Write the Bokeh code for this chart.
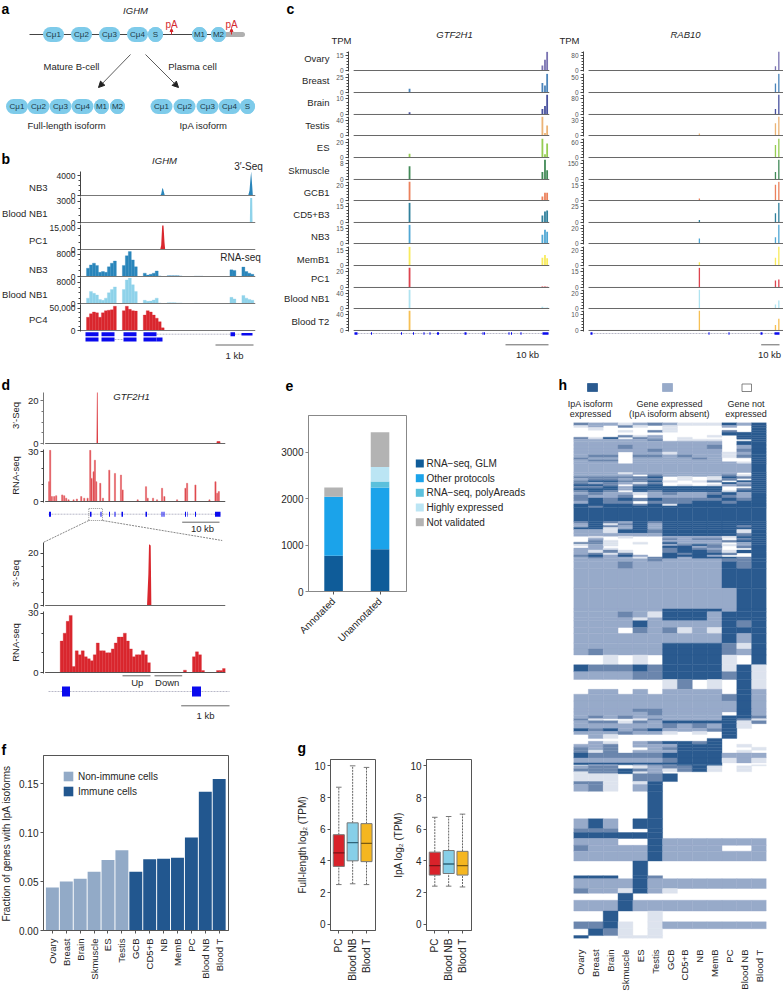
import math
from bokeh.core.properties import value
from bokeh.embed import file_html
from bokeh.layouts import GridBox
from bokeh.models import (Arrow, FixedTicker, Legend, LegendItem, NormalHead, Range1d)
from bokeh.plotting import figure
from bokeh.resources import INLINE

FONT = "Liberation Sans"
INK = "#262626"

# ---------------- DATA ----------------
# panel b: 3'-seq polygons and RNA-seq coverage bins
b3_nb3_x = [238, 478, 481, 484, 486, 489, 492, 743, 747, 750, 752, 755, 757, 765]
b3_nb3_y = [0, 0, 300, 1300, 1500, 700, 0, 0, 1000, 3500, 4800, 2000, 0, 0]
b3_blood_x = [238, 480, 485, 490, 748, 749, 755, 756, 765]
b3_blood_y = [0, 0, 100, 0, 0, 3500, 3500, 0, 0]
b3_pc_x = [238, 318, 325, 332, 478, 481, 484, 488, 491, 493, 765]
b3_pc_y = [0, 0, 400, 0, 0, 3000, 17000, 17000, 5000, 0, 0]
b_rna_nb3 = [0, 0, 3000, 4200, 4800, 4000, 1500, 1800, 1500, 3500, 4800, 5600, 0, 0, 4000, 7500, 9000, 6000, 3500, 0,
             0, 1200, 500, 800, 1200, 2000, 200, 0, 0, 300, 300, 300, 300, 200, 0, 0, 0, 0, 100, 100, 100, 0, 0, 0, 0,
             0, 0, 0, 0, 0, 2400, 2200, 0, 0, 3400, 1800, 1200, 800]
b_rna_blood = [0, 0, 2000, 4500, 3800, 3200, 1500, 1200, 2000, 4000, 5200, 6200, 0, 0, 5200, 8800, 9500, 7000, 4500, 0,
               0, 1200, 800, 900, 1300, 2000, 200, 0, 0, 300, 300, 300, 200, 200, 0, 0, 0, 0, 100, 100, 0, 0, 0, 0, 0,
               0, 0, 0, 0, 0, 2300, 1700, 0, 0, 3000, 2000, 1500, 1200]
b_rna_pc = [0, 0, 30000, 38000, 42000, 40000, 30000, 40000, 45000, 46000, 47000, 55000, 0, 0, 45000, 55000, 48000,
            45000, 44000, 0, 0, 35000, 45000, 42000, 35000, 28000, 20000, 6000, 0, 0, 0, 0, 0, 0, 0, 0, 0, 0, 0, 0, 0,
            0, 0, 0, 0, 0, 0, 0, 0, 0, 0, 0, 0, 0, 0, 0, 0, 0]

# panel c
c_samples = ["Ovary", "Breast", "Brain", "Testis", "ES", "Skmuscle", "GCB1", "CD5+B3", "NB3", "MemB1", "PC1",
             "Blood NB1", "Blood T2"]
c_colors = ["#6a63a8", "#3777b2", "#343e93", "#e9ab67", "#8bc640", "#2e7d46", "#e9734a", "#1a7291", "#3d9dcf",
            "#f7e94b", "#d9303c", "#a6e0ee", "#f5b942"]
gtf_ticks = [15, 25, 10, 40, 20, 8, 20, 15, 15, 15, 20, 40, 40]
gtf_pos = [14.2, 45.1, 45.7, 46.2]
gtf_vals = [[0.3, 5, 11, 19], [6.5, 16, 12, 32], [1.5, 3.5, 5.5, 13], [1, 52, 7, 27], [5, 26, 4.5, 19],
            [6.8, 3.9, 10.3, 4.8], [26, 5.3, 10.7, 10.7], [19, 6.7, 10.7, 11.7], [19, 9, 14, 12], [19, 8, 10.7, 7.3],
            [26, 1.3, 1.3, 1], [52, 5, 2, 3], [52, 1, 0.5, 0.5]]
rab_ticks = [80, 50, 80, 30, 60, 150, 15, 25, 20, 20, 15, 20, 10]
rab_pos = [62, 102.7, 104.5]
rab_vals = [[0, 23, 103], [1.7, 31, 64], [0.9, 28, 103], [4, 25, 39], [0, 51, 77], [1.7, 73, 193], [2, 16, 19],
            [3.9, 15, 32], [6.7, 8.4, 26], [4.4, 10.7, 26], [19, 6.7, 7.7], [26, 5.3, 11], [13, 3.6, 7.6]]

# panel d
d1_x = [135, 289, 290, 292, 293, 648, 649, 659, 660, 675]
d1_y = [0, 0, 24, 24, 0, 0, 1, 1, 0, 0]
d2_pos = [147, 150, 155, 162, 168, 186, 192, 198, 205, 220, 230, 243, 252, 262, 270, 274, 280, 284, 288, 300, 308, 327,
          344, 362, 367, 412, 437, 442, 458, 470, 485, 492, 530, 555, 560, 585, 627, 645, 650, 655]
d2_val = [12, 31, 3, 3, 3.5, 4, 3.5, 2, 1, 1, 1.5, 3, 2, 2, 31, 14, 18, 25, 12, 11, 2, 19, 17, 16, 7, 1, 9, 2, 2, 1, 8,
          3, 1, 8, 11, 10, 1, 12, 5, 6]
d3_x = [135, 440, 444, 446, 451, 453, 675]
d3_y = [0, 0, 12, 23.5, 23, 0, 0]
d4_val = [0, 0, 0, 0, 0, 16, 20, 26, 29, 3, 11, 9, 11, 8, 7, 6, 9, 15, 11, 11, 10, 10, 12, 15, 18, 18, 20, 16, 12, 8, 9,
          9, 11, 9, 5, 0, 0, 0, 0, 0, 0, 0, 0, 0, 0, 0, 1.2, 0, 0, 8, 10.5, 9, 1, 0, 0, 0, 0, 1, 1, 2]

# panel e
e_cats = ["Annotated", "Unannotated"]
e_series = ["RNA\u2212seq, GLM", "Other protocols", "RNA\u2212seq, polyAreads", "Highly expressed", "Not validated"]
e_vals = [[770, 910], [1270, 1330], [0, 130], [0, 310], [200, 750]]
e_colors = ["#0f5c99", "#1ba3ea", "#5bc0dc", "#bbe5f4", "#b3b3b3"]

# panel f
f_cats = ["Ovary", "Breast", "Brain", "Skmuscle", "ES", "Testis", "GCB", "CD5+B", "NB", "MemB", "PC", "Blood NB", "Blood T"]
f_vals = [0.044, 0.050, 0.053, 0.060, 0.072, 0.082, 0.060, 0.073, 0.0735, 0.0745, 0.095, 0.142, 0.155]

# panel g
g_cats = ["PC", "Blood NB", "Blood T"]
g_colors = ["#d9222a", "#86cfe8", "#f5b620"]
g_med_colors = ["#7a1216", "#2f6478", "#7a5a10"]
gfl_low, gfl_q1, gfl_med, gfl_q3, gfl_hi = [2.5, 2.55, 2.5], [3.65, 4.0, 3.95], [4.5, 5.15, 5.1], [5.65, 6.4, 6.35], [8.65, 10, 9.9]
gip_low, gip_q1, gip_med, gip_q3, gip_hi = [2.4, 2.4, 2.35], [3.1, 3.2, 3.1], [3.7, 3.8, 3.7], [4.55, 4.65, 4.6], [6.75, 6.8, 6.95]

# panel h: (number of rows, state per sample). D isoform, L gene only, W not expressed, m/p mixed
h_cats = f_cats
h_rows = [(3, "mLLpLmLpppDLD"), (2, "pLWmpWpWWWLWD"), (3, "WpWWWWpWWWWWD"), (2, "WWWpWmpWWWmWD"), (3, "WWWWWWWWWWDDD"),
          (2, "WWWmpLWWWpWDD"), (2, "mpDWmLWpWWWDD"), (2, "LLLLLmWpppWWD"), (4, "LLLLLLLLLLWDD"), (4, "LLLmLLLLLmWLD"),
          (3, "LLLLLmLLLLWmD"), (3, "LLLWLLpLLLpLD"), (3, "LmmWmmLmLLpmD"), (2, "mLLWLLLLmLWWD"), (2, "LmmWLLLLLLWWD"),
          (2, "LLLWLLLLLLLpD"), (9, "LLLLLLLLLLLLD"), (2, "LLLpLLLLLLLWD"), (2, "LLLLWmLLLLmpD"), (2, "mmmmmDWpWpDmD"),
          (2, "LmmLmmWpWpmWD"), (2, "mDDmmDpWpmWDD"), (2, "mLmLpmWWWWDLD"), (2, "DDmWmDWpWpLmD"), (2, "mmDLDDDDDDWWD"),
          (2, "DDDLDDDDDDWmD"), (2, "mDmWDmDDDDpDD"), (3, "LmLLpLmLLmDLD"), (3, "mLLmWLLLLDmLD"), (3, "mDmDmDmmmmDmD"),
          (3, "LDmmWmmmDDmDD"), (2, "DDDDmDpDDDDDD"), (2, "DmDDDDDDDDDDD"), (14, "DDDDDDDDDDDDD"), (2, "mDmLDmDDDDDDD"),
          (2, "LDpmDLDDDDDDD"), (2, "LDmLDLDDDDDmD"), (2, "DDpLDLDDDDDDD"), (4, "LLpDDmDDDDDpD"), (3, "LLLLLLDDDDDmD"),
          (2, "WpWpWWLLLLpDD"), (2, "WLWWWWmLmmWmD"), (2, "WmpWWWLLLLmDD"), (2, "mmpWpWDLLLWLD"), (2, "pLpWWWLmDmpLD"),
          (2, "WLWWWWDDLmWmD"), (2, "LLpWWWmDmLWWD"), (3, "LpmpWWmDDmpDD"), (2, "LmpmWWDmDDmWD"), (2, "mDLDLWDDDLWWD"),
          (2, "LmLLpmDLDDDmD"), (3, "LLLLLmLLLLmmD"),
          (7, "LLLmLLLLLLDmD"), (20, "LLLLLLLLLLDDD"),
          (21, "LLLLLLLLLLLDD"), (3, "LLLLLLDDDDLDD"), (6, "LLLmLpDDDLDDD"), (3, "LLLLpLDDDLDDD"), (7, "LLLLDLLLLLDmD"),
          (6, "LLLWmLmpLpDDD"), (10, "LLLLLLLLLLDLD"), (6, "LLLLLLDDDDmpD"), (6, "LmLLLLDDDDmLD"), (10, "WWpWpWDDDDpWD"),
          (7, "DmmmDmDDDDpDp"), (8, "LLLLmmDDDDmDp"), (10, "WWWWWWpmWpWDp"), (5, "WLLWLWLLLLWDL"),
          (7, "LLLLLLLLLLmDL"), (8, "LLLLLLLLLLLDL"), (3, "LLLLmmLLLLLDL"), (4, "LLLLLmLLLLWDL"), (3, "LmLmLLLLLLDDm"),
          (2, "mpWWpmLLLLDmp"), (3, "LmmpmLDDDDDpm"), (5, "LLLLLLmLmLDpW"), (3, "DmDLmDLLLmDWW"), (3, "LLLmLLpWpWDWW"),
          (4, "WLpWWWWWWWDWW"), (3, "WWWWWWWWWDWWW"), (3, "WLpWLmDDmDWWW"), (3, "LLmWLLLDDDWpW"), (3, "mLmWWLmDDDWWp"),
          (3, "mpmWLLLDDDWpW"), (5, "DmmmmmDDDDLLL"), (5, "LLLLLLmDDDpLp"), (2, "DDDDDDDDDDWWW"), (1, "WLLWLmmDDDWWp"),
          (3, "LmmWpLmmDpWpW"), (3, "mmmDmLpmDpWpW"), (2, "pmmDpLWWWWWWW"), (8, "pppWmmDWWWWWW"), (3, "mmpWpDWWWWWWW"),
          (7, "LmpWLDWWWWWWW"), (28, "WWWWWDWWWWWWW"), (10, "LDLWDDWWWWWWW"),
          (4, "mmmWWDWWWWWWW"), (6, "DDDDDDWWWWWWW"), (7, "LLLWWDLLLLLLL"), (6, "mLLLLDLLLLWWL"), (10, "LLLLLDLLLLLLL"),
          (15, "WWWWDWWWWWWWW"), (3, "DDDWDmWWWWWWW"), (10, "LLLLDLLLLLLLL"), (5, "mLLpDLpWWWWWW"), (7, "WWWDWWWWWWWWW"),
          (11, "LLLDLLLLLLLLL"), (11, "WWDWWpWWWWWWW"), (7, "mmDpWpLLLLLLL"), (7, "WDmpWpWWWWWWW"), (3, "DWWpppWWWWWWW")]
h_state_colors = {"D": "#2a5a8f", "L": "#97aac9", "m": "#6b86ad", "p": "#dde3ee"}

# ---------------- HELPERS ----------------
children = []


def panel(x0, x1, ytop, ybot, xr, yr, l=50, r=2, t=8, b=8, **kw):
    x0, x1, ytop, ybot = round(x0), round(x1), round(ytop), round(ybot)
    w = x1 - x0 + l + r
    h = ybot - ytop + t + b
    p = figure(width=w, height=h, x_range=xr, y_range=yr, output_backend="svg", toolbar_location=None,
               min_border_left=l, min_border_right=r, min_border_top=t, min_border_bottom=b, frame_align=False,
               background_fill_alpha=0, border_fill_alpha=0, outline_line_color=None, **kw)
    p.grid.visible = False
    children.append((p, ytop - t, x0 - l, h, w))
    return p


def style_y(p, ticks, minor, font_px, color=INK, overrides=None, line="#444"):
    a = p.yaxis[0]
    a.ticker = FixedTicker(ticks=ticks, minor_ticks=minor)
    a.major_label_text_font = FONT
    a.major_label_text_font_size = f"{font_px}px"
    a.major_label_text_color = color
    a.major_tick_in = 0
    a.major_tick_out = 3
    a.minor_tick_in = 0
    a.minor_tick_out = 2
    a.major_label_standoff = 2
    a.axis_line_color = line
    a.major_tick_line_color = line
    a.minor_tick_line_color = line
    if overrides:
        a.major_label_overrides = overrides


def track_fig(x0, x1, base, top, xspan, tick, nminor, font_px, ymax, color=INK, overrides=None, line="#444", l=50):
    per_px = ymax / (base - top)
    p = panel(x0, x1, top, base + 1, Range1d(*xspan), Range1d(-per_px, ymax), l=l, x_axis_location=None)
    step = tick / nminor
    minor = [step * i for i in range(0, int(ymax / step) + 1)]
    style_y(p, [0, tick], minor, font_px, color, overrides, line)
    return p


# ---------------- PANEL b ----------------
b_x0, b_x1 = 80, 255
b_span = (238, 765)
b_bin_x = [238 + 9 * i + 4.5 for i in range(58)]
b_spec = [(195.3, 171, 4000, 4, 4800, None, "#2a86bb", b3_nb3_x, b3_nb3_y, None),
          (222, 197, 3000, 3, 3570, None, "#8fd3ea", b3_blood_x, b3_blood_y, None),
          (249, 224, 15000, 3, 17800, {15000: "15,000"}, "#d9272e", b3_pc_x, b3_pc_y, None),
          (276, 250, 8000, 4, 9400, None, "#2a86bb", None, None, b_rna_nb3),
          (303, 277, 8000, 4, 9700, None, "#8fd3ea", None, None, b_rna_blood),
          (330, 304, 50000, 5, 59000, {50000: "50,000"}, "#d9272e", None, None, b_rna_pc)]
for base, top, tick, nm, ymax, ov_lab, col, px, py, bins in b_spec:
    p = track_fig(b_x0, b_x1, base, top, b_span, tick, nm, 8.5, ymax, overrides=ov_lab)
    if bins is None:
        p.varea(x=px, y1=[0] * len(px), y2=py, fill_color=col)
    else:
        p.vbar(x=b_bin_x, top=bins, width=9, fill_color=col, line_color=col, line_width=0.3)
    p.line(x=list(b_span), y=[0, 0], line_color="#777", line_width=1.2)

# ---------------- PANEL c ----------------
c_bases = [70.3, 92.3, 113.7, 135.3, 157, 178.7, 200.3, 221.7, 243.3, 265, 286.7, 308.3, 329.7]
for i, base in enumerate(c_bases):
    for x0, x1, span, ticks, pos, vals, start, wid in (
            (348, 549, (0, 46.75), gtf_ticks, gtf_pos, gtf_vals, 1.2, 0.42),
            (583, 783, (0, 107), rab_ticks, rab_pos, rab_vals, 2.7, 0.7)):
        tick = ticks[i]
        p = track_fig(x0, x1, base, base - 19.5, span, tick, 5, 6.5, tick * 1.29, color="#555555", l=22)
        p.vbar(x=pos, top=vals[i], width=wid, fill_color=c_colors[i], line_color=None, fill_alpha=0.9)
        p.line(x=[start, span[1]], y=[0, 0], line_color="#666", line_width=1)

# ---------------- PANEL d ----------------
d_span = (130, 675)
p = track_fig(43, 225, 443.3, 391.7, d_span, 20, 4, 9.5, 23.8, line="#777", l=43)
p.varea(x=d1_x, y1=[0] * len(d1_x), y2=d1_y, fill_color="#d9272e")
p.line(x=[135, 675], y=[0, 0], line_color="#666", line_width=1)
p = track_fig(43, 225, 501, 449, d_span, 30, 3, 9.5, 31.5, l=43)
p.vbar(x=d2_pos, top=d2_val, width=3.5, fill_color="#d9272e", line_color="#e8787c", line_width=0.6)
p.line(x=[135, 675], y=[0, 0], line_color="#555", line_width=1)
p = track_fig(43, 225, 605, 541.7, d_span, 20, 4, 9.5, 24.2, l=43)
p.varea(x=d3_x, y1=[0] * len(d3_x), y2=d3_y, fill_color="#d9272e")
p.line(x=[135, 675], y=[0, 0], line_color="#666", line_width=1)
p = track_fig(43, 225, 672, 611, d_span, 30, 3, 9.5, 31, l=43)
p.vbar(x=[135 + 9 * i + 4.5 for i in range(60)], top=d4_val, width=9, fill_color="#d9272e", line_color="#d9272e", line_width=0.3)
p.line(x=[135, 675], y=[0, 0], line_color="#555", line_width=1)

# ---------------- PANEL e ----------------
p = panel(308, 406, 415, 591, Range1d(-0.54, 1.57), Range1d(0, 3790), l=45, r=4, t=4, b=70)
p.outline_line_color = "#888888"
bottoms = [0, 0]
for name, vals, col in zip(e_series, e_vals, e_colors):
    tops = [a + b for a, b in zip(bottoms, vals)]
    p.vbar(x=[0, 1], bottom=bottoms, top=tops, width=0.4, fill_color=col, line_color=None)
    bottoms = tops
style_y(p, [0, 1000, 2000, 3000], [], 10, line="#888888")
ax = p.xaxis[0]
ax.ticker = FixedTicker(ticks=[0, 1])
ax.major_label_overrides = {0: e_cats[0], 1: e_cats[1]}
ax.major_label_orientation = math.pi / 4
ax.major_label_text_font = FONT
ax.major_label_text_font_size = "10px"
ax.major_label_text_color = INK
ax.major_tick_in = 0
ax.major_tick_out = 3
ax.minor_tick_line_color = None
ax.axis_line_color = "#888888"
ax.major_tick_line_color = "#555555"

# ---------------- PANEL f ----------------
p = panel(43, 228, 755, 930, Range1d(-0.64, 12.67), Range1d(0, 0.179), l=43, r=3, t=4, b=60)
p.outline_line_color = "#555555"
r1 = p.vbar(x=list(range(6)), top=f_vals[:6], width=0.93, fill_color="#92aac7", line_color=None)
r2 = p.vbar(x=list(range(6, 13)), top=f_vals[6:], width=0.93, fill_color="#22578f", line_color=None)
style_y(p, [0, 0.05, 0.10, 0.15], [], 10, overrides={0: "0.00", 0.05: "0.05", 0.1: "0.10", 0.15: "0.15"}, line="#555555")
ax = p.xaxis[0]
ax.ticker = FixedTicker(ticks=list(range(13)))
ax.major_label_overrides = dict(enumerate(f_cats))
ax.major_label_orientation = math.pi / 2
ax.major_label_text_font = FONT
ax.major_label_text_font_size = "9.5px"
ax.major_label_text_color = INK
ax.major_tick_in = 0
ax.major_tick_out = 3
ax.minor_tick_line_color = None
ax.axis_line_color = "#555555"
ax.major_tick_line_color = "#555555"
p.add_layout(Legend(items=[LegendItem(label=value("Non-immune cells"), renderers=[r1]),
                           LegendItem(label=value("Immune cells"), renderers=[r2])],
                    location=(19, 133), glyph_width=12, glyph_height=12, spacing=3, padding=0, margin=0,
                    label_standoff=4, label_height=12, label_text_font=FONT, label_text_font_size="10px",
                    label_text_color=INK, background_fill_alpha=0, border_line_color=None))

# ---------------- PANEL g ----------------
for x0, x1, low, q1, med, q3, hi, label in ((330, 375, gfl_low, gfl_q1, gfl_med, gfl_q3, gfl_hi, "Full-length log\u2082 (TPM)"),
                                            (426, 471, gip_low, gip_q1, gip_med, gip_q3, gip_hi, "IpA log\u2082 (TPM)")):
    p = panel(x0, x1, 759, 930, Range1d(-0.6, 2.65), Range1d(-0.4, 10.4), l=40, r=3, t=4, b=58)
    p.outline_line_color = "#555555"
    xs = [0, 1, 2]
    p.segment(x0=xs, x1=xs, y0=low, y1=q1, line_color="#666", line_dash="2 1", line_width=1)
    p.segment(x0=xs, x1=xs, y0=q3, y1=hi, line_color="#666", line_dash="2 1", line_width=1)
    p.segment(x0=[x - 0.2 for x in xs], x1=[x + 0.2 for x in xs], y0=low, y1=low, line_color="#777")
    p.segment(x0=[x - 0.2 for x in xs], x1=[x + 0.2 for x in xs], y0=hi, y1=hi, line_color="#777")
    p.vbar(x=xs, bottom=q1, top=q3, width=0.8, fill_color=g_colors, line_color="#777777", line_width=1)
    p.segment(x0=[x - 0.4 for x in xs], x1=[x + 0.4 for x in xs], y0=med, y1=med, line_color=g_med_colors, line_width=1.4)
    style_y(p, [0, 2, 4, 6, 8, 10], [], 10, line="#555555")
    a = p.yaxis[0]
    a.axis_label = label
    a.axis_label_text_font = FONT
    a.axis_label_text_font_style = "normal"
    a.axis_label_text_font_size = "10px"
    a.axis_label_text_color = INK
    a.axis_label_standoff = 3
    ax = p.xaxis[0]
    ax.ticker = FixedTicker(ticks=xs)
    ax.major_label_overrides = dict(enumerate(g_cats))
    ax.major_label_orientation = math.pi / 2
    ax.major_label_text_font = FONT
    ax.major_label_text_font_size = "10px"
    ax.major_label_text_color = INK
    ax.major_tick_in = 0
    ax.major_tick_out = 3
    ax.minor_tick_line_color = None
    ax.axis_line_color = "#555555"
    ax.major_tick_line_color = "#555555"

# ---------------- PANEL h ----------------
h_total = sum(n for n, _ in h_rows)
p = panel(573, 766, 422, 947, Range1d(0, 13), Range1d(h_total, 0), l=2, r=2, t=2, b=46, y_axis_location=None)
left, right, top, bottom, colors = [], [], [], [], []
pos = 0
for n, row in h_rows:
    for j, s in enumerate(row):
        if s == "W":
            continue
        left.append(j)
        right.append(j + 1)
        top.append(pos)
        bottom.append(pos + n)
        colors.append(h_state_colors[s])
    pos += n
p.quad(left=left, right=right, top=top, bottom=bottom, fill_color=colors, line_color=colors, line_width=0.4)
ax = p.xaxis[0]
ax.ticker = FixedTicker(ticks=[i + 0.5 for i in range(13)])
ax.major_label_overrides = {i + 0.5: c for i, c in enumerate(h_cats)}
ax.major_label_orientation = math.pi / 2
ax.major_label_text_font = FONT
ax.major_label_text_font_size = "9.5px"
ax.major_label_text_color = INK
ax.major_tick_line_color = None
ax.minor_tick_line_color = None
ax.axis_line_color = None
ax.major_label_standoff = 5

# ---------------- OVERLAY: schematics, gene models, free labels ----------------
ov = figure(width=783, height=995, x_range=Range1d(0, 783), y_range=Range1d(995, 0), output_backend="svg",
            toolbar_location=None, min_border=0, frame_align=False, x_axis_location=None, y_axis_location=None,
            background_fill_alpha=0, border_fill_alpha=0, outline_line_color=None)
ov.grid.visible = False
children.append((ov, 0, 0, 995, 783))


def txt(x, y, s, size=9.5, align="center", bold=False, italic=False, color=INK, angle=0.0):
    style = "bold" if bold else ("italic" if italic else "normal")
    ov.text(x=[x], y=[y], text=[s], text_font=value(FONT), text_font_size=f"{size}px", text_align=align,
            text_baseline="middle", text_color=color, text_font_style=style, angle=angle)


def pill(xc, yc, w, h, s, size=8):
    r = h / 2
    ov.rect(x=[xc], y=[yc], width=[max(w - h, 0.01)], height=[h], fill_color="#7ecbea", line_color=None)
    ov.circle(x=[xc - w / 2 + r, xc + w / 2 - r], y=[yc, yc], radius=r, fill_color="#7ecbea", line_color=None)
    txt(xc, yc, s, size=size, color="#1c3a46")


def gene(y, spans, h, x0, x1, dash="2 1"):
    ov.line(x=[x0, x1], y=[y, y], line_color="#b8b8c8", line_width=1, line_dash=dash)
    ov.quad(left=[a for a, _ in spans], right=[b for _, b in spans], top=[y - h / 2] * len(spans),
            bottom=[y + h / 2] * len(spans), fill_color="#0a0aee", line_color=None)


def rule(x0, x1, y, color="#666666", width=1.0, dash="solid"):
    ov.line(x=[x0, x1], y=[y, y], line_color=color, line_width=width, line_dash=dash)


for s, x, y in (("a", 1, 8), ("b", 1, 158), ("c", 286, 8), ("d", 1, 384), ("e", 285, 385), ("f", 1, 749),
                ("g", 297, 747), ("h", 558, 384)):
    txt(x, y, s, size=14, align="left", bold=True, color="#000000")

# panel a
txt(135, 10, "IGHM", italic=True)
ov.line(x=[29, 226], y=[34, 34], line_color="#444444", line_width=1)
ov.line(x=[226, 242], y=[34, 34], line_color="#b0b0b0", line_width=5, line_cap="round")
for s, x, w in (("C\u03bc1", 53, 21), ("C\u03bc2", 81, 21), ("C\u03bc3", 109, 21), ("C\u03bc4", 137, 21), ("S", 155, 15),
                ("M1", 199, 15), ("M2", 218, 15)):
    pill(x, 34, w, 15, s)
for x in (171, 231):
    txt(x, 24, "pA", size=10, color="#d5292f")
    ov.add_layout(Arrow(end=NormalHead(size=3, fill_color="#d5292f", line_color="#d5292f"), x_start=x, y_start=34,
                        x_end=x, y_end=28, line_color="#d5292f", line_width=1))
for xs, xe in ((130, 98), (145, 178)):
    ov.add_layout(Arrow(end=NormalHead(size=6, fill_color="#222", line_color="#222"), x_start=xs, y_start=54,
                        x_end=xe, y_end=87, line_color="#333", line_width=0.8))
txt(71, 66, "Mature B-cell")
txt(192, 66, "Plasma cell")
for s, x, w in (("C\u03bc1", 16.5, 22), ("C\u03bc2", 38, 22), ("C\u03bc3", 60, 22), ("C\u03bc4", 82, 22), ("M1", 101, 15),
                ("M2", 117, 15), ("C\u03bc1", 161, 22), ("C\u03bc2", 184, 22), ("C\u03bc3", 207, 22), ("C\u03bc4", 229, 22),
                ("S", 247, 15)):
    pill(x, 106, w, 15, s)
txt(66, 125, "Full-length isoform")
txt(203, 125, "IpA isoform")

# panel b labels
txt(164, 160, "IGHM", italic=True)
txt(248, 166, "3\u2032-Seq", size=10)
txt(240, 257, "RNA-seq", size=10)
for s, y, x in (("NB3", 187, 47), ("Blood NB1", 213, 47), ("PC1", 240, 47), ("NB3", 269, 47), ("Blood NB1", 294, 47),
                ("PC4", 319, 47)):
    txt(x, y, s, align="right")
gene(333.7, [(85, 98), (101, 114), (123, 136), (143, 156), (230, 234.5)], 4, 156, 252)
ov.quad(left=[241], right=[252], top=[332.5], bottom=[335], fill_color="#0a0aee", line_color=None)
gene(339, [(85, 98), (101, 114), (123, 136), (143, 156), (156, 162)], 4, 114, 123)
rule(215, 253, 344.5)
txt(234, 355, "1 kb")

# panel c labels
txt(454, 34, "GTF2H1", italic=True)
txt(685, 34, "RAB10", italic=True)
txt(341, 40, "TPM")
txt(569, 40, "TPM")
for s, y in zip(c_samples, (57.5, 80, 102, 124.5, 147, 169.5, 192, 214, 236, 259, 278, 298, 321)):
    txt(329, y, s, align="right")
gene(333, [(354, 357), (370.5, 371.5), (400.5, 401.5), (412.5, 413.5), (423, 424), (429, 430), (436.5, 438.5), (464, 466),
           (482, 483), (483.5, 484.5), (508, 509), (510.5, 511.5), (520, 521), (542, 548)], 2.5, 354, 548)
gene(333, [(590, 592), (708, 709), (728, 729), (760, 762), (774, 779)], 2.5, 590, 779)
rule(505, 548, 344.3)
rule(760.7, 779, 344.3)
txt(527, 354, "10 kb")
txt(769, 354, "10 kb")

# panel d labels
txt(131, 396, "GTF2H1", italic=True)
for s, y in (("3\u2032-Seq", 415), ("RNA-seq", 475), ("3\u2032-Seq", 573), ("RNA-seq", 642)):
    txt(15, y, s, angle=math.pi / 2)
gene(513.7, [(48.5, 50.5), (89.5, 91), (100, 101), (108.5, 109.5), (114, 115), (121, 122.5), (145, 146.5), (161, 162),
             (163, 164), (184.5, 185.5), (186.5, 187), (194.5, 195.5), (214.5, 220)], 5, 48, 220)
ov.line(x=[88.3, 102, 102, 88.3, 88.3], y=[508, 508, 520, 520, 508], line_color="#666", line_width=0.7, line_dash="1 1")
ov.line(x=[88.3, 43.3], y=[520, 541.7], line_color="#555", line_width=0.7, line_dash="2 1")
ov.line(x=[102, 221.7], y=[520, 540], line_color="#555", line_width=0.7, line_dash="2 1")
rule(181.7, 219, 521.7)
txt(202, 528, "10 kb")
gene(691, [(61.5, 69.5), (191.5, 200.5)], 10, 48, 229)
rule(122, 150, 675.3)
rule(154, 181.7, 675.3)
txt(136.7, 682, "Up")
txt(166.7, 682, "Down")
rule(180.7, 229, 705.3)
txt(205, 715, "1 kb")

# panel e legend
for name, col, y in zip(e_series, e_colors, (463, 477.7, 492.3, 507, 521.7)):
    ov.rect(x=[419.3], y=[y], width=[8], height=[8], fill_color=col, line_color=None)
    txt(426, y, name, size=10, align="left")

# panel f y label
txt(6, 843, "Fraction of genes with IpA isoforms", size=10, angle=math.pi / 2)

# panel h legend
ov.quad(left=[587, 662, 741.5], right=[597, 672, 751], top=[383, 383, 383.5], bottom=[391, 391, 391],
        fill_color=["#2a5a8f", "#97aac9", "#ffffff"], line_color=["#2a5a8f", "#97aac9", "#666666"], line_width=0.8)
txt(590, 403, "IpA isoform", size=9)
txt(590, 413, "expressed", size=9)
txt(669, 403, "Gene expressed", size=9)
txt(669, 413, "(IpA isoform absent)", size=9)
txt(745.5, 403, "Gene not", size=9)
txt(745.5, 413, "expressed", size=9)

root = GridBox(children=children, rows=["1px"] * 995, cols=["1px"] * 783, spacing=0, width=783, height=995)
open("out.html", "w").write(file_html(root, INLINE))
